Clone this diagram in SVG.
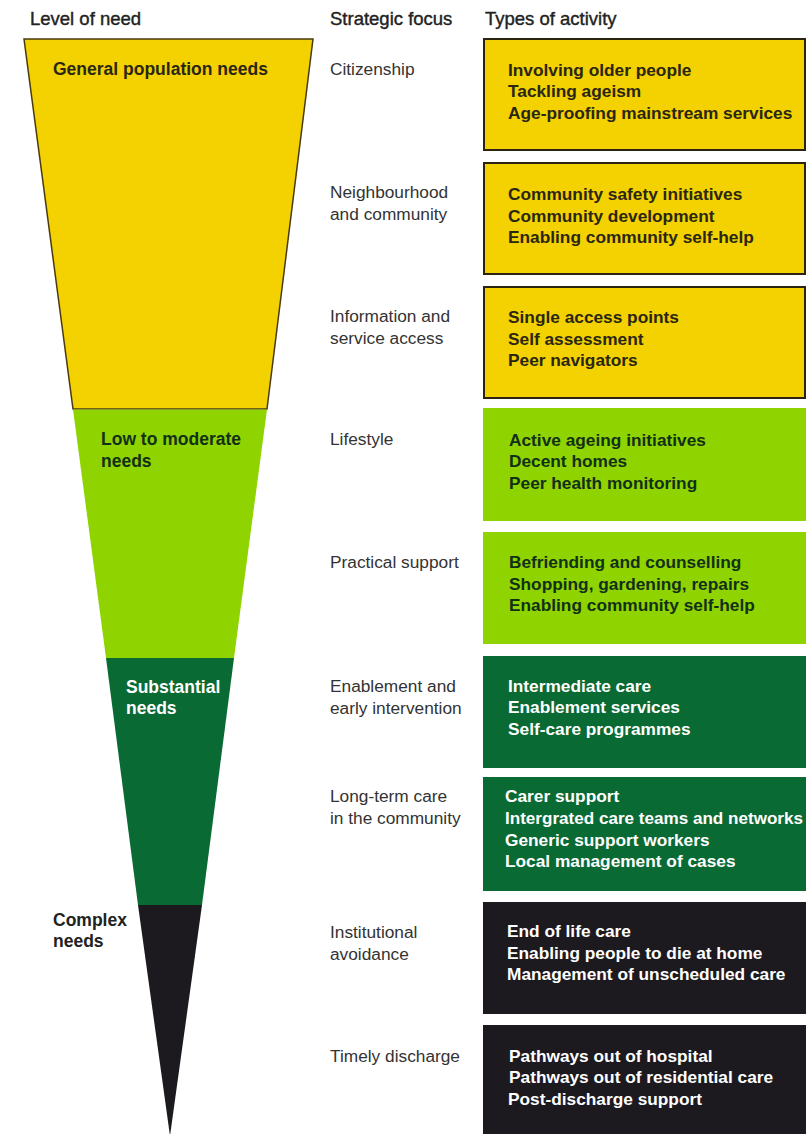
<svg xmlns="http://www.w3.org/2000/svg" width="812" height="1134" viewBox="0 0 812 1134">
<style>
.hdr{font-family:"Liberation Sans",Arial,sans-serif;font-size:18.5px;fill:#222;stroke:#222;stroke-width:0.4;}
.lvl{font-family:"Liberation Sans",Arial,sans-serif;font-size:17.5px;font-weight:bold;}
.foc{font-family:"Liberation Sans",Arial,sans-serif;font-size:17.3px;fill:#333;}
.act{font-family:"Liberation Sans",Arial,sans-serif;font-size:17.3px;font-weight:bold;}
.dk{fill:#2a2614;}
.dg{fill:#123018;}
.wt{fill:#ffffff;}
.y{fill:#f4d100;}
.lg{fill:#8fd400;}
.g{fill:#0a6a33;}
.b{fill:#1c1a1f;}
.ybox{stroke:#2b2410;stroke-width:2;}
</style>
<rect width="812" height="1134" fill="#ffffff"/>
<g id="headers">
<text class="hdr" x="30" y="25">Level of need</text>
<text class="hdr" x="330" y="25">Strategic focus</text>
<text class="hdr" x="485" y="25">Types of activity</text>
</g>
<g id="funnel">
<g id="level-general">
<polygon class="y" points="24,39 313,39 267,409 73,409" stroke="#4a3a12" stroke-width="1.5"/>
<text class="lvl dk" x="53" y="75">General population needs</text>
</g>
<g id="level-low">
<polygon class="lg" points="73,409.5 267,409.5 234,658 106,658"/>
<text class="lvl dg" x="101" y="445">Low to moderate</text>
<text class="lvl dg" x="101" y="467">needs</text>
</g>
<g id="level-substantial">
<polygon class="g" points="106,658 234,658 202,905 138,905"/>
<text class="lvl wt" x="126" y="693">Substantial</text>
<text class="lvl wt" x="126" y="714">needs</text>
</g>
<g id="level-complex">
<polygon class="b" points="138,905 202,905 170,1136"/>
<text class="lvl" fill="#222" x="53" y="926">Complex</text>
<text class="lvl" fill="#222" x="53" y="947">needs</text>
</g>
</g>
<g id="focus">
<text class="foc" x="330" y="75">Citizenship</text>
<text class="foc" x="330" y="198">Neighbourhood</text>
<text class="foc" x="330" y="220">and community</text>
<text class="foc" x="330" y="322">Information and</text>
<text class="foc" x="330" y="344">service access</text>
<text class="foc" x="330" y="445">Lifestyle</text>
<text class="foc" x="330" y="568">Practical support</text>
<text class="foc" x="330" y="692">Enablement and</text>
<text class="foc" x="330" y="714">early intervention</text>
<text class="foc" x="330" y="802">Long-term care</text>
<text class="foc" x="330" y="824">in the community</text>
<text class="foc" x="330" y="938">Institutional</text>
<text class="foc" x="330" y="960">avoidance</text>
<text class="foc" x="330" y="1062">Timely discharge</text>
</g>
<g id="box-citizenship">
<rect class="y ybox" x="484" y="39" width="321" height="111"/>
<text class="act dk" x="508" y="76">Involving older people</text>
<text class="act dk" x="508" y="97">Tackling ageism</text>
<text class="act dk" x="508" y="119">Age-proofing mainstream services</text>
</g>
<g id="box-neighbourhood">
<rect class="y ybox" x="484" y="163" width="321" height="111"/>
<text class="act dk" x="508" y="200">Community safety initiatives</text>
<text class="act dk" x="508" y="222">Community development</text>
<text class="act dk" x="508" y="243">Enabling community self-help</text>
</g>
<g id="box-information">
<rect class="y ybox" x="484" y="287" width="321" height="111"/>
<text class="act dk" x="508" y="323">Single access points</text>
<text class="act dk" x="508" y="345">Self assessment</text>
<text class="act dk" x="508" y="366">Peer navigators</text>
</g>
<g id="box-lifestyle">
<rect class="lg" x="483" y="408" width="323" height="113"/>
<text class="act dg" x="509" y="446">Active ageing initiatives</text>
<text class="act dg" x="509" y="467">Decent homes</text>
<text class="act dg" x="509" y="489">Peer health monitoring</text>
</g>
<g id="box-practical">
<rect class="lg" x="483" y="532" width="323" height="112"/>
<text class="act dg" x="509" y="568">Befriending and counselling</text>
<text class="act dg" x="509" y="590">Shopping, gardening, repairs</text>
<text class="act dg" x="509" y="611">Enabling community self-help</text>
</g>
<g id="box-enablement">
<rect class="g" x="483" y="656" width="323" height="112"/>
<text class="act wt" x="508" y="692">Intermediate care</text>
<text class="act wt" x="508" y="713">Enablement services</text>
<text class="act wt" x="508" y="735">Self-care programmes</text>
</g>
<g id="box-longterm">
<rect class="g" x="483" y="777" width="323" height="114"/>
<text class="act wt" x="505" y="802">Carer support</text>
<text class="act wt" x="505" y="824" textLength="298" lengthAdjust="spacingAndGlyphs">Intergrated care teams and networks</text>
<text class="act wt" x="505" y="846">Generic support workers</text>
<text class="act wt" x="505" y="867">Local management of cases</text>
</g>
<g id="box-institutional">
<rect class="b" x="483" y="902" width="323" height="112"/>
<text class="act wt" x="507" y="937">End of life care</text>
<text class="act wt" x="507" y="959">Enabling people to die at home</text>
<text class="act wt" x="507" y="980">Management of unscheduled care</text>
</g>
<g id="box-discharge">
<rect class="b" x="483" y="1025" width="323" height="111"/>
<text class="act wt" x="509" y="1062">Pathways out of hospital</text>
<text class="act wt" x="509" y="1083">Pathways out of residential care</text>
<text class="act wt" x="508" y="1105">Post-discharge support</text>
</g>
<g id="connectors"></g>
</svg>
